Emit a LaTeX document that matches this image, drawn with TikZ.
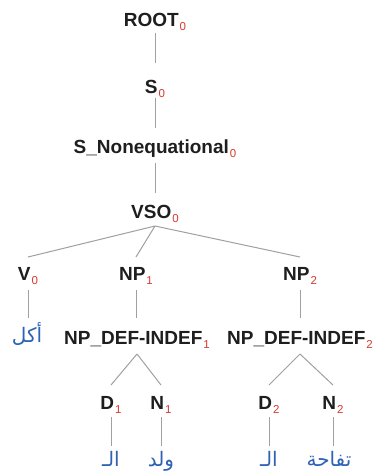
\documentclass[tikz,border=0pt]{standalone}
\usepackage{fontspec}
\setmainfont{Liberation Sans}
\newfontfamily\arabicfont[Script=Arabic]{DejaVu Sans}
\TeXXeTstate=1
\usetikzlibrary{calc}
\definecolor{subred}{HTML}{D83A32}
\definecolor{arblue}{HTML}{2E62B5}
\definecolor{linegray}{HTML}{A0A0A0}
\definecolor{labelblack}{HTML}{1E1E1E}
\newcommand{\sbs}[1]{\kern1pt\raisebox{-4.5pt}{\fontsize{11.5}{11.5}\selectfont\mdseries\textcolor{subred}{#1}}}
\begin{document}
\begin{tikzpicture}[x=1pt,y=-1pt,
  lab/.style={anchor=base, inner sep=0pt, font=\fontsize{19}{19}\selectfont\bfseries, text=labelblack},
  arab/.style={anchor=base, inner sep=0pt, font=\arabicfont\fontsize{20}{20}\selectfont, text=arblue},
  conn/.style={draw=linegray, line width=1pt}]
\path[use as bounding box, fill=white] (0,0) rectangle (376,475);

\node[lab] (root) at (155,26) {ROOT\sbs{0}};
\node[lab] (s) at (155,93) {S\sbs{0}};
\node[lab] (sne) at (155,153) {S\_Nonequational\sbs{0}};
\node[lab] (vso) at (155,218) {VSO\sbs{0}};
\node[lab] (v) at (28,280) {V\sbs{0}};
\node[lab] (np1) at (136,280) {NP\sbs{1}};
\node[lab] (np2) at (300,280) {NP\sbs{2}};
\node[arab] (akl) at (27,342) {\beginR أكل\endR};
\node[lab] (npd1) at (137,344) {NP\_DEF-INDEF\sbs{1}};
\node[lab] (npd2) at (300,344) {NP\_DEF-INDEF\sbs{2}};
\node[lab] (d1) at (111,409) {D\sbs{1}};
\node[lab] (n1) at (161,409) {N\sbs{1}};
\node[lab] (d2) at (269,409) {D\sbs{2}};
\node[lab] (n2) at (333,409) {N\sbs{2}};
\node[arab] (al1) at (111,466) {\beginR الـ\endR};
\node[arab] (walad) at (161,466) {\beginR ولد\endR};
\node[arab] (al2) at (269,466) {\beginR الـ\endR};
\node[arab] (tuf) at (329,466) {\beginR تفاحة\endR};

\draw[conn] ([yshift=-7pt]root.base) -- ($(root.base |- s.base)+(0,30pt)$);
\draw[conn] ([yshift=-5pt]s.base) -- ($(s.base |- sne.base)+(0,25pt)$);
\draw[conn] ([yshift=-10pt]sne.base) -- ($(sne.base |- vso.base)+(0,25pt)$);
\draw[conn] ([yshift=-8pt]vso.base) -- ([yshift=23pt]v.base);
\draw[conn] ([yshift=-8pt]vso.base) -- ([yshift=23pt]np1.base);
\draw[conn] ([yshift=-8pt]vso.base) -- ([yshift=23pt]np2.base);
\draw[conn] ([yshift=-10pt]v.base) -- ($(v.base |- akl.base)+(0,24pt)$);
\draw[conn] ([yshift=-10pt]np1.base) -- ($(np1.base |- npd1.base)+(0,26pt)$);
\draw[conn] ([yshift=-10pt]np2.base) -- ($(np2.base |- npd2.base)+(0,26pt)$);
\draw[conn] ([yshift=-10pt]npd1.base) -- ([yshift=24pt]d1.base);
\draw[conn] ([yshift=-10pt]npd1.base) -- ([yshift=24pt]n1.base);
\draw[conn] ([yshift=-10pt]npd2.base) -- ([yshift=24pt]d2.base);
\draw[conn] ([yshift=-10pt]npd2.base) -- ([yshift=24pt]n2.base);
\draw[conn] ([yshift=-8pt]d1.base) -- ($(d1.base |- al1.base)+(0,20pt)$);
\draw[conn] ([yshift=-8pt]n1.base) -- ($(n1.base |- walad.base)+(0,20pt)$);
\draw[conn] ([yshift=-8pt]d2.base) -- ($(d2.base |- al2.base)+(0,20pt)$);
\draw[conn] ([yshift=-8pt]n2.base) -- ($(n2.base |- tuf.base)+(0,20pt)$);
\end{tikzpicture}
\end{document}
